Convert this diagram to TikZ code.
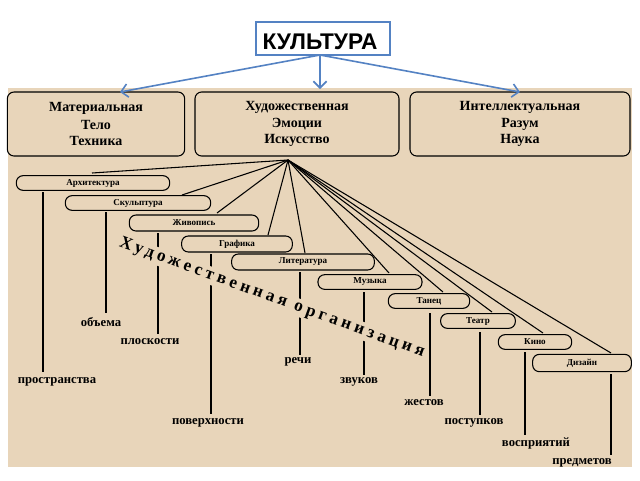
\documentclass[tikz,border=0pt]{standalone}
\usepackage{fontspec}
\usetikzlibrary{arrows.meta}
\setmainfont{Liberation Serif}
\newfontfamily\tsans{Liberation Sans}
\definecolor{bg}{RGB}{232,213,186}
\definecolor{arr}{RGB}{84,130,195}
\begin{document}
\begin{tikzpicture}[x=0.75pt,y=-0.75pt,
 big/.style={draw,thick,rounded corners=5pt,align=center,font=\bfseries\fontsize{10.5}{12}\selectfont,inner sep=0pt},
 sm/.style={draw,thick,rounded corners=5pt,font=\bfseries\fontsize{6.8}{7}\selectfont,inner sep=0pt},
 lab/.style={font=\bfseries\fontsize{9.5}{10}\selectfont,inner sep=1pt},
 ln/.style={line width=1.1pt}]
\useasboundingbox (0,0) rectangle (640,480);
\fill[white] (0,0) rectangle (640,480);
\fill[bg] (8,88) rectangle (632,467);
\draw[arr,thick] (256,22) rectangle (390,55);
\node[font=\tsans\bfseries\fontsize{17}{20}\selectfont] (t) at (320,42) {КУЛЬТУРА};
\coordinate (ta) at (320,55);
\node[big,minimum width=133pt,minimum height=48pt] (m) at (96,124) {Материальная\\[1pt]Тело\\Техника};
\node[big,minimum width=153pt,minimum height=48pt] (h) at (297,124) {Художественная\\[1pt]Эмоции\\Искусство};
\node[big,minimum width=165pt,minimum height=48pt] (i) at (520,124) {Интеллектуальная\\[1pt]Разум\\Наука};
\foreach \p in {(120,92),(320,89),(520,92)} \draw[arr,line width=1.2pt,-{Straight Barb[length=5pt]}] (ta) -- \p;
\coordinate (hub) at (288,160);
\node[sm,minimum width=115pt,minimum height=11pt] (a1) at (93,183) {Архитектура};
\node[sm,minimum width=109pt,minimum height=11pt] (a2) at (138,203) {Скульптура};
\node[sm,minimum width=97pt,minimum height=12pt] (a3) at (194,223) {Живопись};
\node[sm,minimum width=83pt,minimum height=12pt] (a4) at (237,244) {Графика};
\node[sm,minimum width=107pt,minimum height=12pt] (a5) at (303,262) {Литература};
\node[sm,minimum width=78pt,minimum height=11pt] (a6) at (370,282) {Музыка};
\node[sm,minimum width=61pt,minimum height=11pt] (a7) at (429,301) {Танец};
\node[sm,minimum width=56pt,minimum height=11pt] (a8) at (478,321) {Театр};
\node[sm,minimum width=55pt,minimum height=11pt] (a9) at (535,342) {Кино};
\node[sm,minimum width=74pt,minimum height=13pt] (a10) at (582,363) {Дизайн};
\coordinate (e1) at (92,173); \coordinate (e2) at (182,195);
\coordinate (e3) at (217,213); \coordinate (e4) at (268,235);
\coordinate (e5) at (305,253); \coordinate (e6) at (389,273);
\coordinate (e7) at (443,292); \coordinate (e8) at (492,312);
\coordinate (e9) at (543,333); \coordinate (e10) at (611,353);
\foreach \i in {1,...,10} \draw[thick] (hub) -- (e\i);
\node[lab] (l1) at (57,382) {пространства};
\node[lab] (l2) at (101,322) {объема};
\node[lab] (l3) at (150,342) {плоскости};
\node[lab] (l4) at (208,423) {поверхности};
\node[lab] (l5) at (298,362) {речи};
\node[lab] (l6) at (359,382) {звуков};
\node[lab] (l7) at (424,403) {жестов};
\node[lab] (l8) at (474,423) {поступков};
\node[lab] (l9) at (536,443) {восприятий};
\node[lab] (l10) at (582,463) {предметов};
\draw[ln] (43,192) -- (43,372);
\draw[ln] (106,212) -- (106,313);
\draw[ln] (158,233) -- (158,334);
\draw[ln] (211,254) -- (211,414);
\draw[ln] (300,272) -- (300,355);
\draw[ln] (364,292) -- (364,375);
\draw[ln] (430,313) -- (430,396);
\draw[ln] (480,332) -- (480,415);
\draw[ln] (525,352) -- (525,435);
\draw[ln] (611,374) -- (611,455);
\node[fill=bg,inner sep=1pt,rotate=-20,font=\bfseries\fontsize{13}{14}\selectfont] (diag) at (272,298) {\addfontfeatures{LetterSpace=22}Художественная организация};
\end{tikzpicture}
\end{document}
